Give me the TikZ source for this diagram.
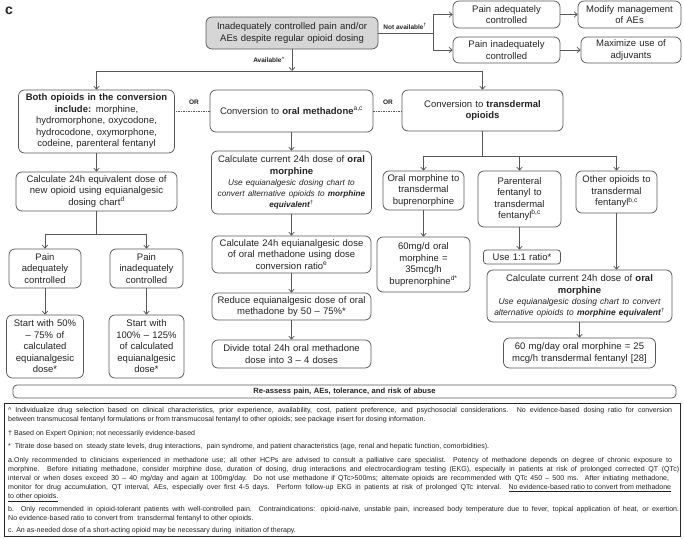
\documentclass[tikz,border=0pt]{standalone}
\usepackage{fontspec}
\setmainfont{Liberation Sans}
\usetikzlibrary{arrows.meta}
\definecolor{gc}{HTML}{575757}
\definecolor{tc}{HTML}{222222}
\definecolor{topfill}{HTML}{D6D6D6}
\newcommand\mf{\fontsize{9.5}{11.5}\selectfont}
\newcommand\itf{\fontsize{8.2}{11}\selectfont\itshape}
\newcommand\itfr{\fontsize{8.5}{11}\selectfont\itshape}
\newcommand\fnf{\fontsize{7.05}{9.2}\selectfont}
\newcommand\lbf{\fontsize{6.5}{8}\selectfont\bfseries}
\newcommand\nbox[6][]{\node[box,text width=#4pt,minimum height=#5pt,#1] (#2) at (#3) {#6};}
\newcommand\fline[2]{\hbox to #1pt{#2}}
\begin{document}
\begin{tikzpicture}[x=1pt,y=-1pt,
 box/.style={draw=gc, line width=0.75pt, rounded corners=6pt, align=center, inner xsep=0pt, inner ysep=1pt, font=\mf, text=tc},
 ln/.style={draw=gc, line width=0.75pt},
 arr/.style={ln, -{Straight Barb[length=3pt,width=5.5pt]}},
 dsh/.style={draw=gc, line width=0.6pt, dash pattern=on 1.5pt off 1pt},
 lab/.style={font=\lbf, text=tc, inner sep=0pt},
 fn/.style={font=\fnf, text=tc, anchor=base west, inner sep=0pt}]
\useasboundingbox (0,0) rectangle (684,538);

\node[font=\fontsize{14}{14}\selectfont\bfseries, text=tc, inner sep=0pt] (clab) at (9,11) {c};

% top row
\nbox[fill=topfill]{top}{292,33}{172}{32}{Inadequately controlled pain and/or\\AEs despite regular opioid dosing}
\nbox{pa}{506.5,14.5}{107}{27}{Pain adequately\\controlled}
\nbox{mod}{629.5,14.5}{103}{27}{Modify management\\of AEs}
\nbox{pi}{506.5,50}{107}{26}{Pain inadequately\\controlled}
\nbox{max}{631,50}{100}{26}{Maximize use of\\adjuvants}

% second row
\nbox{left}{96.5,121.5}{156}{63}{\textbf{Both opioids in the conversion}\\\textbf{include:} morphine,\\hydromorphone, oxycodone,\\hydrocodone, oxymorphone,\\codeine, parenteral fentanyl}
\nbox{mid}{291.5,111}{163}{42}{Conversion to \textbf{oral methadone}\textsuperscript{a,c}}
\nbox{right}{482.5,110.5}{161}{41}{Conversion to \textbf{transdermal}\\\textbf{opioids}}

% left column
\nbox{calcL}{96.5,191.5}{161}{39}{Calculate 24h equivalent dose of\\new opioid using equianalgesic\\dosing chart\textsuperscript{d}}
\nbox{pad}{45,268.5}{72}{39}{Pain\\adequately\\controlled}
\nbox{pind}{146.5,268.5}{73}{39}{Pain\\inadequately\\controlled}
\nbox{s50}{45,346.5}{77}{63}{Start with 50\%\\– 75\% of\\calculated\\equianalgesic\\dose*}
\nbox{s100}{146.5,346.5}{75}{63}{Start with\\100\% – 125\%\\of calculated\\equianalgesic\\dose*}

% middle column
\nbox{calcM}{291.5,182.5}{160}{63}{Calculate current 24h dose of \textbf{oral}\\\textbf{morphine}\\{\itf Use equianalgesic dosing chart to\\convert alternative opioids to \textbf{morphine}\\\textbf{equivalent}\textsuperscript{†}}}
\nbox{equiM}{291.5,254.5}{159}{37}{Calculate 24h equianalgesic dose\\of oral methadone using dose\\conversion ratio\textsuperscript{e}}
\nbox{reduce}{291.5,306.5}{159}{27}{Reduce equianalgesic dose of oral\\methadone by 50 – 75\%*}
\nbox{divide}{291.5,354}{159}{28}{Divide total 24h oral methadone\\dose into 3 – 4 doses}

% right column
\nbox{omb}{423.5,190.5}{81}{39}{Oral morphine to\\transdermal\\buprenorphine}
\nbox{pft}{519.5,199}{83}{56}{Parenteral\\fentanyl to\\transdermal\\fentanyl\textsuperscript{b,c}}
\nbox{oot}{616.5,192}{81}{42}{Other opioids to\\transdermal\\fentanyl\textsuperscript{b,c}}
\nbox{b60}{423.5,264.5}{93}{55}{60mg/d oral\\morphine =\\35mcg/h\\buprenorphine\textsuperscript{d*}}
\nbox[rounded corners=3pt, inner ysep=0pt]{r11}{522,257}{77}{14}{Use 1:1 ratio*}
\nbox{calcR}{579.5,296}{185}{52}{Calculate current 24h dose of \textbf{oral}\\\textbf{morphine}\\{\itfr Use equianalgesic dosing chart to convert\\alternative opioids to \textbf{morphine equivalent}\textsuperscript{†}}}
\nbox{f60}{579.5,353}{152}{30}{60 mg/day oral morphine = 25\\mcg/h transdermal fentanyl [28]}

% bar
\node[box, rounded corners=4pt, text width=663pt, minimum height=13pt, inner ysep=0pt, font=\fontsize{7.6}{8}\selectfont\bfseries] (bar) at (344.5,391.5) {Re-assess pain, AEs, tolerance, and risk of abuse};

% connectors top
\coordinate (j1) at (433,33);
\draw[ln] (top.east) -- (j1);
\draw[arr] (j1) |- (pa.west);
\draw[arr] (j1) |- (pi.west);
\draw[arr] (pa) -- (mod);
\draw[arr] (pi) -- (max);
\node[lab, anchor=base] (na) at (405,29.5) {Not available\textsuperscript{†}};

\coordinate (h1) at (292,71);
\draw[arr] (top.south) -- (h1);
\draw[ln] (left.north |- h1) -- (right.north |- h1);
\draw[arr] (left.north |- h1) -- (left.north);
\draw[arr] (right.north |- h1) -- (right.north);
\node[lab] (av) at (269,60) {Available\textsuperscript{\textasciicircum}};

% OR links
\draw[dsh] (mid.west) -- (mid.west -| left.east);
\draw[dsh] (mid.east) -- (mid.east -| right.west);
\node[lab] (or1) at (194,102) {OR};
\node[lab] (or2) at (388,102) {OR};

% left column
\draw[arr] (left) -- (calcL);
\coordinate (b1) at (96.5,234);
\draw[ln] (calcL.south) -- (b1);
\draw[ln] (pad.north |- b1) -- (pind.north |- b1);
\draw[arr] (pad.north |- b1) -- (pad.north);
\draw[arr] (pind.north |- b1) -- (pind.north);
\draw[arr] (pad) -- (s50);
\draw[arr] (pind) -- (s100);

% middle column
\draw[arr] (mid) -- (calcM);
\draw[arr] (calcM) -- (equiM);
\draw[arr] (equiM) -- (reduce);
\draw[arr] (reduce) -- (divide);

% right column
\coordinate (b2) at (482.5,156);
\draw[ln] (right.south) -- (b2);
\draw[ln] (omb.north |- b2) -- (oot.north |- b2);
\draw[arr] (omb.north |- b2) -- (omb.north);
\draw[arr] (pft.north |- b2) -- (pft.north);
\draw[arr] (oot.north |- b2) -- (oot.north);
\draw[arr] (omb) -- (b60);
\draw[arr] (pft.south) -- (pft.south |- r11.north);
\draw[arr] (oot.south) -- (oot.south |- calcR.north);
\draw[arr] (calcR) -- (f60);

% footnotes
\node[draw=black!85, line width=0.75pt, minimum width=676pt, minimum height=133pt, inner sep=0pt, anchor=north west] (foot) at (4,403) {};
\node[fn] (fn1) at (8,412) {\fline{664}{\textasciicircum{} Individualize drug selection based on clinical characteristics, prior experience, availability, cost, patient preference, and psychosocial considerations. No evidence-based dosing ratio for conversion}};
\node[fn] (fn2) at (8,421.2) {between transmucosal fentanyl formulations or from transmucosal fentanyl to other opioids; see package insert for dosing information.};
\node[fn] (fn3) at (8,435) {† Based on Expert Opinion; not necessarily evidence-based};
\node[fn] (fn4) at (8,448.5) {*\ \ Titrate dose based on\ \ steady state levels, drug interactions,\ \ pain syndrome, and patient characteristics (age, renal and hepatic function, comorbidities).};
\node[fn] (fn5) at (8,462) {\fline{664}{a.Only recommended to clinicians experienced in methadone use; all other HCPs are advised to consult a palliative care specialist. Potency of methadone depends on degree of chronic exposure to}};
\node[fn] (fn6) at (8,471.2) {\fline{671}{morphine. Before initiating methadone, consider morphine dose, duration of dosing, drug interactions and electrocardiogram testing (EKG), especially in patients at risk of prolonged corrected QT (QTc)}};
\node[fn] (fn7) at (8,480.4) {\fline{661}{interval or when doses exceed 30 – 40 mg/day and again at 100mg/day. Do not use methadone if QTc>500ms; alternate opioids are recommended with QTc 450 – 500 ms. After initiating methadone,}};
\node[fn] (fn8) at (8,489.6) {\fline{663}{monitor for drug accumulation, QT interval, AEs, especially over first 4-5 days. Perform follow-up EKG in patients at risk of prolonged QTc interval. \underline{No evidence-based ratio to convert from methadone}}};
\node[fn] (fn9) at (8,498.8) {\underline{to other opioids.}};
\node[fn] (fn10) at (8,511) {\fline{671}{b. Only recommended in opioid-tolerant patients with well-controlled pain. Contraindications: opioid-naive, unstable pain, increased body temperature due to fever, topical application of heat, or exertion.}};
\node[fn] (fn11) at (8,520.2) {No evidence-based ratio to convert from\ \ transdermal fentanyl to other opioids.};
\node[fn] (fn12) at (8,532.5) {c. An as-needed dose of a short-acting opioid may be necessary during\ \ initiation of therapy.};
\end{tikzpicture}
\end{document}
